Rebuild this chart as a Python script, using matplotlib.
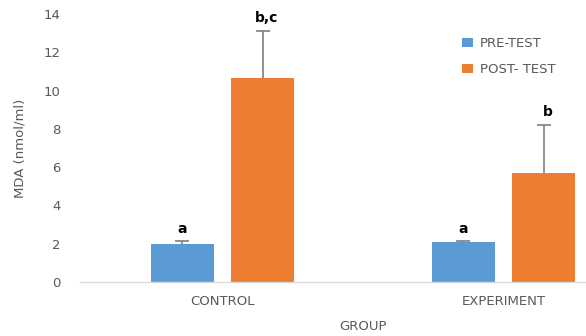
import matplotlib
matplotlib.use("Agg")
import matplotlib.pyplot as plt
import numpy as np

groups = ["CONTROL", "EXPERIMENT"]
series = ["PRE-TEST", "POST- TEST"]
pre_vals = [1.97, 2.09]
pre_err = [0.17, 0.07]
post_vals = [10.67, 5.69]
post_err = [2.43, 2.5]
pre_labels = ["a", "a"]
post_labels = ["b,c", "b"]
yticks = [0, 2, 4, 6, 8, 10, 12, 14]

plt.rcParams['font.family'] = ['DejaVu Sans']
gray = '#595959'
fs = 9.5

fig = plt.figure(figsize=(5.86, 3.36), dpi=100)
ax = fig.add_axes([80/586, 54/336, 506/586, 268/336])

x = np.arange(len(groups))
off = 0.143
w = 0.224
ekw = dict(ecolor='#7f7f7f', elinewidth=1.2, capsize=5, capthick=1.2)
ax.errorbar(x - off, pre_vals, yerr=pre_err, fmt='none', zorder=1, **ekw)
ax.bar(x - off, pre_vals, w, color='#5B9BD5', label=series[0], zorder=2)
ax.errorbar(x + off, post_vals, yerr=post_err, fmt='none', zorder=1, **ekw)
ax.bar(x + off, post_vals, w, color='#ED7D31', label=series[1], zorder=2)

for xi, v, e, t in zip(x - off, pre_vals, pre_err, pre_labels):
    ax.annotate(t, (xi, v + e), xytext=(0, 8.5), textcoords='offset points',
                ha='center', va='center', fontsize=10, fontweight='bold', color='black')
for xi, v, e, t in zip(x + off, post_vals, post_err, post_labels):
    ax.annotate(t, (xi + 0.015, v + e), xytext=(0, 9.5), textcoords='offset points',
                ha='center', va='center', fontsize=10, fontweight='bold', color='black')

ax.set_xlim(-0.507, 1.294)
ax.set_ylim(0, 14)
ax.set_yticks(yticks)
ax.set_xticks(x)
ax.set_xticklabels(groups)
for s in ['top', 'right', 'left']:
    ax.spines[s].set_visible(False)
ax.spines['bottom'].set_color('#d9d9d9')
ax.spines['bottom'].set_linewidth(1.0)
ax.tick_params(axis='y', length=0, pad=14, labelsize=fs, labelcolor=gray)
ax.tick_params(axis='x', length=0, pad=9.5, labelsize=fs, labelcolor=gray)

ax.set_ylabel("MDA (nmol/ml)", fontsize=fs, color=gray, labelpad=12)
fig.text(363/586, 1 - 326/336, "GROUP", ha='center', va='center', fontsize=fs, color=gray)

leg = ax.legend(loc='upper left', bbox_to_anchor=(377/506, 1 - 18/268), frameon=False,
                fontsize=fs, labelcolor=gray, handlelength=0.85, handleheight=0.65,
                handletextpad=0.5, labelspacing=1.0, borderaxespad=0)

fig.savefig("out.png", dpi=100)
